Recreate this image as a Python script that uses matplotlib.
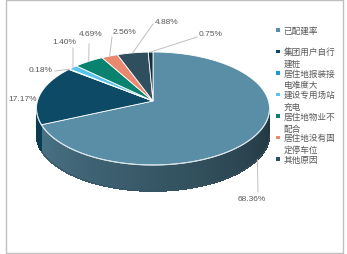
import numpy as np
import matplotlib.pyplot as plt
from matplotlib.patches import Polygon, Rectangle
from matplotlib.colors import to_rgb

plt.rcParams['font.family'] = ['Noto Sans CJK SC', 'DejaVu Sans']

# data (clockwise from 12 o'clock)
categories = ['已配建率', '集团用户自行建桩', '居住地报装接电难度大', '建设专用场站充电',
              '居住地物业不配合', '居住地没有固定停车位', '其他原因', '']
legend_labels = ['已配建率', '集团用户自行\n建桩', '居住地报装接\n电难度大', '建设专用场站\n充电',
                 '居住地物业不\n配合', '居住地没有固\n定停车位', '其他原因']
values = [68.36, 17.17, 0.18, 1.40, 4.69, 2.56, 4.88, 0.75]
colors = ['#5a8ea6', '#0c4a66', '#1b9ad6', '#5ac3ee', '#0a8270', '#e9896f', '#2f4f5f', '#10303f']
# label anchor (pixel) for each percentage, and leader line end
label_pos = [(252, 200), (37, 100), (53, 71), (64, 42), (91, 35), (124, 33), (167, 22), (211, 35)]
leader_end = [(258, 193), None, (55, 72), (73, 49), (89, 45), (112, 38), (153, 25), (197, 38)]

W, H = 347, 255
fig = plt.figure(figsize=(W / 100, H / 100), dpi=100)
ax = fig.add_axes([0, 0, 1, 1])
ax.set_xlim(0, W)
ax.set_ylim(H, 0)
ax.axis('off')

# pie geometry in pixels (perspective tilted disc)
cx, cy = 153, 102
sx, sy = 115.5, 55.5
k = 0.133
depth = 26


def rim(phi, dz=0):
    phi = np.asarray(phi)
    den = 1 + k * np.sin(phi)
    return cx + sx * np.cos(phi) / den, cy - sy * np.sin(phi) / den + dz


def shade(c, phi):
    # lighter on the left, darker to the right
    t = (phi - np.radians(187.6)) / (np.radians(352.4) - np.radians(187.6))
    f = 0.85 - 0.47 * np.clip(t, 0, 1)
    return tuple(np.array(to_rgb(c)) * f)


fracs = np.array(values) / sum(values)
bounds = np.radians(90 - 360 * np.concatenate([[0], np.cumsum(fracs)]))

# side walls (front half only)
lo_vis, hi_vis = np.radians(187.6 - 360), np.radians(352.4 - 360)
for i, c in enumerate(colors):
    a0, a1 = bounds[i + 1], bounds[i]
    s0, s1 = max(a0, lo_vis), min(a1, hi_vis)
    if s1 <= s0:
        continue
    ph = np.linspace(s0, s1, max(2, int((s1 - s0) / 0.01) + 2))
    for p0, p1 in zip(ph[:-1], ph[1:]):
        x0, y0 = rim(p0)
        x1, y1 = rim(p1)
        col = shade(c, (p0 + p1) / 2 + 2 * np.pi)
        ax.add_patch(Polygon([(x0, y0), (x1, y1), (x1, y1 + depth), (x0, y0 + depth)],
                             closed=True, fc=col, ec=col, lw=0.5, antialiased=False, zorder=1))
    # smooth bottom outline
    pp = np.linspace(s0, s1, 100)
    bx, by = rim(pp, depth)
    ax.plot(bx, by, color=shade(c, (s0 + s1) / 2 + 2 * np.pi), lw=0.6, zorder=1)

# top face
for i, c in enumerate(colors):
    ph = np.linspace(bounds[i], bounds[i + 1], 120)
    xs, ys = rim(ph)
    pts = [(cx, cy)] + list(zip(xs, ys))
    ax.add_patch(Polygon(pts, closed=True, fc=c, ec='white', lw=0.6, zorder=2))

# light rim highlight on the front edge
ph = np.linspace(np.radians(187.6), np.radians(352.4), 200)
xs, ys = rim(ph)
ax.plot(xs, ys, color='#d8e4ea', lw=0.8, zorder=3)

# percentage labels with leader lines
for i, v in enumerate(values):
    mid = (bounds[i] + bounds[i + 1]) / 2
    tx, ty = label_pos[i]
    if leader_end[i] is not None:
        mx, my = rim(mid, depth if np.sin(mid) < -0.2 else 0)
        ex, ey = leader_end[i]
        ax.plot([mx, ex], [my, ey], color='#bfbfbf', lw=0.7, zorder=4)
    ha = 'right' if i in (1, 2) else 'center'
    ax.text(tx, ty, f'{v:.2f}%', fontsize=6, color='#595959', ha=ha, va='center',
            family=['Liberation Sans', 'DejaVu Sans'], zorder=5)

# legend
ly0, dy, line_h = 31, 21.5, 12
for j, lab in enumerate(legend_labels):
    y = ly0 + j * dy
    ax.add_patch(Rectangle((276.5, y - 1.8), 3.6, 3.6, fc=colors[j], ec='none', zorder=5))
    for n, part in enumerate(lab.split('\n')):
        ax.text(283.5, y + n * line_h, part, fontsize=6.2, color='#595959',
                ha='left', va='center', zorder=5)

# chart border
ax.add_patch(Rectangle((6.5, 1), 337, 252.5, fill=False, ec='#c0c0c0', lw=1.0, zorder=6))

fig.savefig('out.png', dpi=100)
